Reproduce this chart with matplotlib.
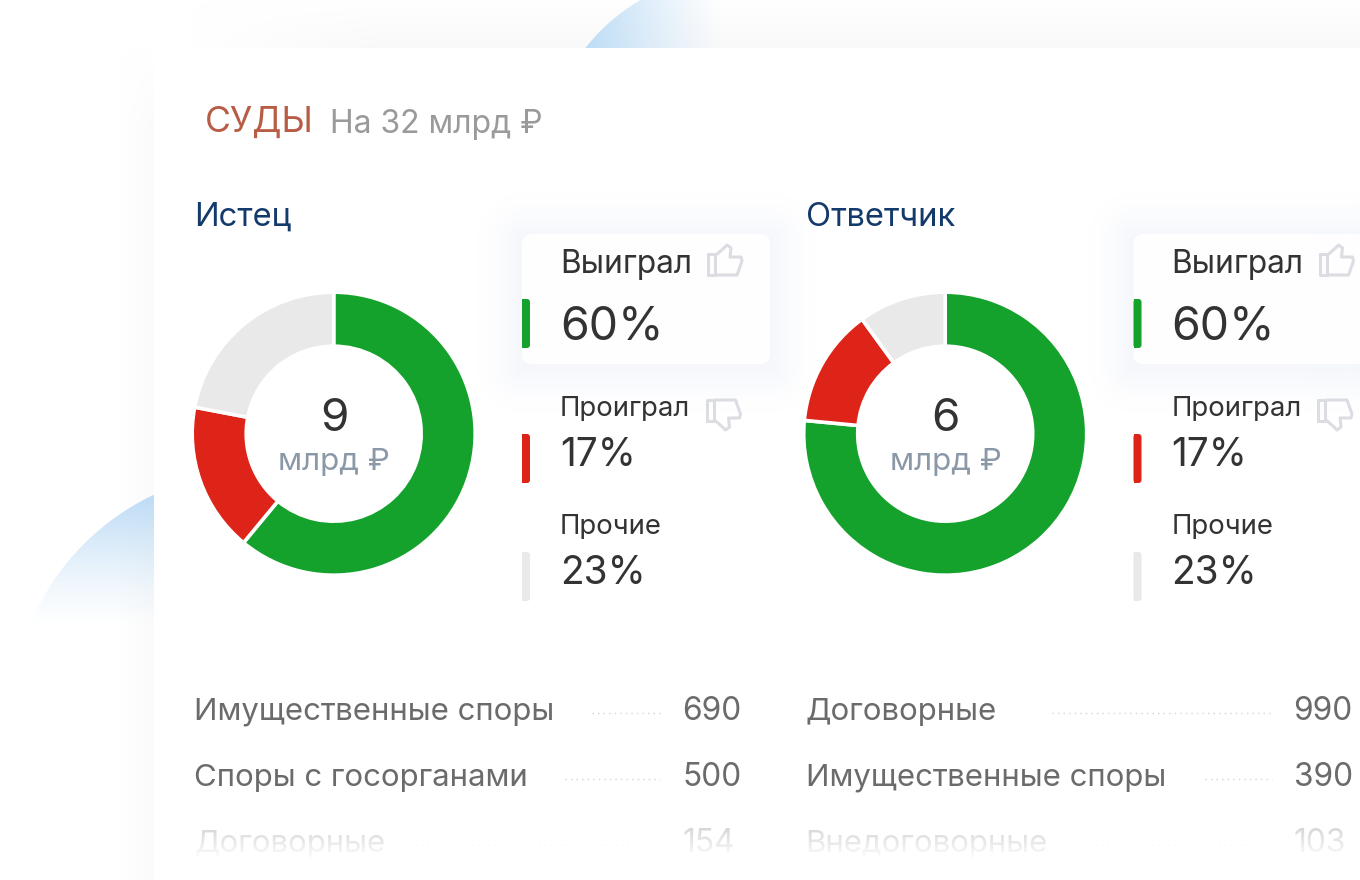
#!/usr/bin/env python3
"""Court statistics card: two donuts with outcome legend and dispute lists."""

import matplotlib

matplotlib.use("Agg")

import matplotlib.pyplot as plt
import numpy as np
from matplotlib.patches import Circle, FancyBboxPatch, PathPatch, Rectangle
from matplotlib.path import Path

plt.rcParams["font.family"] = ["Inter", "DejaVu Sans"]

WIDTH, HEIGHT = 1360, 880

TITLE = "СУДЫ"
SUBTITLE = "На 32 млрд ₽"
PANEL_NAMES = ["Истец", "Ответчик"]
PANEL_TOTALS = ["9", "6"]
UNIT = "млрд ₽"
OUTCOMES = ["Выиграл", "Проиграл", "Прочие"]
OUTCOME_LABELS = ["60%", "17%", "23%"]
SLICE_COLORS = ["#14a22d", "#de2318", "#e9e9e9"]
PLAINTIFF_SLICES = [61, 17, 22]
DEFENDANT_SLICES = [76.5, 13.5, 10]
PLAINTIFF_NAMES = ["Имущественные споры", "Споры с госорганами", "Договорные"]
PLAINTIFF_COUNTS = ["690", "500", "154"]
DEFENDANT_NAMES = ["Договорные", "Имущественные споры", "Внедоговорные"]
DEFENDANT_COUNTS = ["990", "390", "103"]
LEADER_STARTS = [[592, 565, 405], [1052, 1205, 1085]]

THUMB_CUFF = [(708, 254), (715, 254), (715, 275), (708, 275), (708, 254)]
THUMB_HAND = [
    (716, 255), (724, 248), (727, 245), (731, 248), (730, 257),
    (741, 257), (742, 261), (737, 275), (716, 275),
]


def gradient(ax, rgb, alpha, extent, zorder, clip=None):
    image = np.zeros(alpha.shape + (4,))
    image[..., :3] = matplotlib.colors.to_rgb(rgb)
    image[..., 3] = alpha
    artist = ax.imshow(
        image,
        extent=extent,
        origin="upper",
        aspect="auto",
        interpolation="bilinear",
        zorder=zorder,
    )
    if clip is not None:
        artist.set_clip_path(clip)
    return artist


def draw_background(ax):
    # top band behind the card and the soft shadow at its left edge
    top_alpha = np.outer(np.linspace(0.0, 1.0, 48), np.clip(np.linspace(-0.2, 6, 200), 0, 1))
    gradient(ax, "#f9f9fa", top_alpha, (150, WIDTH, 48, 0), 1)
    side_alpha = np.tile(np.linspace(0.0, 1.0, 34), (400, 1))
    side_alpha[:40] *= np.linspace(0, 1, 40)[:, None]
    gradient(ax, "#fbfbfb", side_alpha, (120, 154, 880, 48), 1)

    left_circle = Circle((260, 720), 249, transform=ax.transData)
    left_alpha = np.linspace(1.0, 0.0, 140)[:, None] ** 1.3
    gradient(ax, "#b9d9f5", left_alpha, (0, 154, 628, 488), 2, left_circle)

    top_circle = Circle((740, 170), 197, transform=ax.transData)
    top_alpha = np.linspace(1.0, 0.0, 140)[None, :] ** 1.2
    gradient(ax, "#bcdcf6", top_alpha, (582, 722, 48, 0), 2, top_circle)

    ax.add_patch(Rectangle((154, 48), WIDTH - 154, HEIGHT - 48, color="white", lw=0, zorder=3))


def draw_card(ax, x):
    box = (x, 234, 248, 130)
    # one soft shadow computed from the distance to the card edge
    spread = 46
    xs = np.arange(x - spread, x + box[2] + spread) + 0.5
    ys = np.arange(box[1] - spread, box[1] + box[3] + spread + 6) + 0.5
    grid_x, grid_y = np.meshgrid(xs, ys)
    away_x = np.maximum(np.maximum(x - grid_x, grid_x - x - box[2]), 0)
    away_y = np.maximum(np.maximum(box[1] + 4 - grid_y, grid_y - box[1] - box[3] - 4), 0)
    shadow = np.clip(1 - np.hypot(away_x, away_y) / spread, 0, 1) ** 1.5
    gradient(ax, "#f5f7fc", shadow, (xs[0] - 0.5, xs[-1] + 0.5, ys[-1] + 0.5, ys[0] - 0.5), 4)

    ax.add_patch(
        FancyBboxPatch(
            box[:2],
            box[2],
            box[3],
            boxstyle="round,pad=0,rounding_size=10",
            fc="#fefefe",
            ec="none",
            zorder=5,
        )
    )


def draw_thumb(ax, dx, flipped):
    # outline is given for the thumb-up glyph, the other one is its mirror image
    def place(points):
        if flipped:
            return [(px + dx - 1.5, 675 - py) for px, py in points]
        return [(px + dx, py) for px, py in points]

    for points in (THUMB_CUFF, THUMB_HAND):
        ax.add_patch(
            PathPatch(
                Path(place(points)),
                fill=False,
                ec="#dcdde3",
                lw=2.2,
                joinstyle="round",
                capstyle="round",
                zorder=6,
            )
        )


def draw_panel(ax, fig, index, slices, names, counts):
    dx = 611.5 * index
    x0 = 194 + dx
    ax.text(x0, 217, PANEL_NAMES[index], fontsize=23.6, color="#14396b", va="center", zorder=7)

    pie_ax = fig.add_axes(
        [(192.2 + dx) / WIDTH, 1 - 575.2 / HEIGHT, 283 / WIDTH, 283 / HEIGHT], zorder=2
    )
    pie_ax.pie(
        slices,
        colors=SLICE_COLORS,
        startangle=90,
        counterclock=False,
        radius=1.0,
        wedgeprops={"width": 54 / 141.5, "edgecolor": "white", "linewidth": 2.6},
    )
    pie_ax.set_xlim(-1, 1)
    pie_ax.set_ylim(-1, 1)
    pie_ax.patch.set_visible(False)

    center = 334 + dx
    ax.text(center, 419, PANEL_TOTALS[index], fontsize=33, color="#333333", ha="center", va="center", zorder=7)
    ax.text(center, 462, UNIT, fontsize=22.6, color="#8a98a8", ha="center", va="center", zorder=7)

    draw_card(ax, 522 + dx)

    label_x = 560 + dx
    bar_tops = [299, 434, 552]
    label_ys = [264, 409, 527]
    value_ys = [327, 456, 574]
    value_sizes = [33.4, 28, 28]
    label_sizes = [22.8, 19.8, 19.8]
    for k, outcome in enumerate(OUTCOMES):
        ax.text(label_x, label_ys[k], outcome, fontsize=label_sizes[k], color="#333333", va="center", zorder=7)
        ax.text(label_x, value_ys[k], OUTCOME_LABELS[k], fontsize=value_sizes[k], color="#333333", va="center", zorder=7)
        ax.add_patch(
            FancyBboxPatch(
                (522 + dx, bar_tops[k]),
                8,
                49,
                boxstyle="round,pad=0,rounding_size=3",
                fc=SLICE_COLORS[k],
                ec="none",
                zorder=7,
            )
        )
        ax.add_patch(Rectangle((522 + dx, bar_tops[k]), 4, 49, fc=SLICE_COLORS[k], ec="none", zorder=7))

    draw_thumb(ax, dx, False)
    draw_thumb(ax, dx, True)

    row_ys = [709, 775, 841]
    for k, name in enumerate(names):
        ax.text(x0, row_ys[k] + 2.5, name, fontsize=22.4, color="#6b6b6b", va="center", zorder=7)
        ax.text(682 + dx, row_ys[k] + 2.5, counts[k], fontsize=22.8, color="#6b6b6b", va="center", zorder=7)
        ax.plot(
            [LEADER_STARTS[index][k], 660 + dx],
            [row_ys[k] + 4, row_ys[k] + 4],
            color="#d4d4d4",
            lw=1,
            ls=(0, (1, 3)),
            zorder=7,
        )


def main():
    fig = plt.figure(figsize=(WIDTH / 100, HEIGHT / 100), dpi=100)
    ax = fig.add_axes([0, 0, 1, 1], zorder=1)
    ax.axis("off")

    draw_background(ax)

    ax.text(204.5, 122, TITLE, fontsize=25.6, color="#b85c45", va="center", zorder=7)
    ax.text(330.5, 125, SUBTITLE, fontsize=23, color="#9a9a9a", va="center", zorder=7)

    draw_panel(ax, fig, 0, PLAINTIFF_SLICES, PLAINTIFF_NAMES, PLAINTIFF_COUNTS)
    draw_panel(ax, fig, 1, DEFENDANT_SLICES, DEFENDANT_NAMES, DEFENDANT_COUNTS)

    # the list fades out toward the bottom of the card
    fade = np.clip(np.linspace(0.0, 1.35, 80), 0, 1)[:, None]
    fade = np.where(fade > 0, 0.5 + 0.5 * fade, 0)
    gradient(ax, "white", fade, (154, WIDTH, 880, 800), 8)

    # imshow resets the limits, so they are fixed once everything is drawn
    ax.set_xlim(0, WIDTH)
    ax.set_ylim(HEIGHT, 0)

    fig.savefig("out.png", dpi=100)


if __name__ == "__main__":
    main()
